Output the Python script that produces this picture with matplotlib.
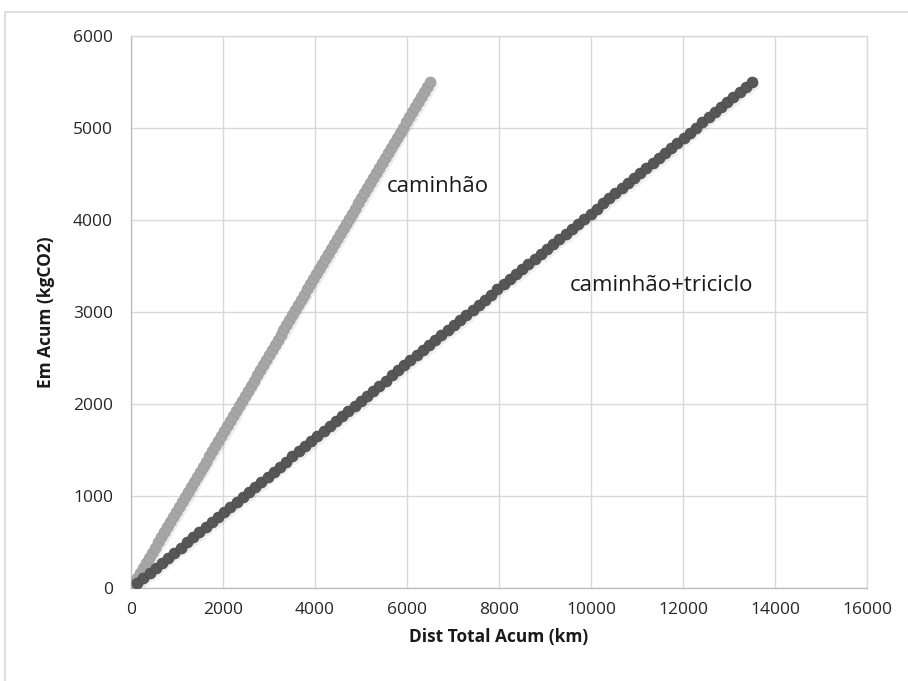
import matplotlib
matplotlib.use("Agg")
import matplotlib.pyplot as plt
from matplotlib.patches import Rectangle

# Cumulative emissions (kgCO2), shared by both series
em_acum = [55, 110, 165, 220, 275, 330, 385, 440, 495, 550,
           605, 660, 715, 770, 825, 880, 935, 990, 1045, 1100,
           1155, 1210, 1265, 1320, 1375, 1430, 1485, 1540, 1595, 1650,
           1705, 1760, 1815, 1870, 1925, 1980, 2035, 2090, 2145, 2200,
           2255, 2310, 2365, 2420, 2475, 2530, 2585, 2640, 2695, 2750,
           2805, 2860, 2915, 2970, 3025, 3080, 3135, 3190, 3245, 3300,
           3355, 3410, 3465, 3520, 3575, 3630, 3685, 3740, 3795, 3850,
           3905, 3960, 4015, 4070, 4125, 4180, 4235, 4290, 4345, 4400,
           4455, 4510, 4565, 4620, 4675, 4730, 4785, 4840, 4895, 4950,
           5005, 5060, 5115, 5170, 5225, 5280, 5335, 5390, 5445, 5500]

# Cumulative distance (km) - caminhão
dist_caminhao = [65, 130, 195, 260, 325, 390, 455, 520, 585, 650,
                 715, 780, 845, 910, 975, 1040, 1105, 1170, 1235, 1300,
                 1365, 1430, 1495, 1560, 1625, 1690, 1755, 1820, 1885, 1950,
                 2015, 2080, 2145, 2210, 2275, 2340, 2405, 2470, 2535, 2600,
                 2665, 2730, 2795, 2860, 2925, 2990, 3055, 3120, 3185, 3250,
                 3315, 3380, 3445, 3510, 3575, 3640, 3705, 3770, 3835, 3900,
                 3965, 4030, 4095, 4160, 4225, 4290, 4355, 4420, 4485, 4550,
                 4615, 4680, 4745, 4810, 4875, 4940, 5005, 5070, 5135, 5200,
                 5265, 5330, 5395, 5460, 5525, 5590, 5655, 5720, 5785, 5850,
                 5915, 5980, 6045, 6110, 6175, 6240, 6305, 6370, 6435, 6500]

# Cumulative distance (km) - caminhão+triciclo
dist_cam_tric = [135, 270, 405, 540, 675, 810, 945, 1080, 1215, 1350,
                 1485, 1620, 1755, 1890, 2025, 2160, 2295, 2430, 2565, 2700,
                 2835, 2970, 3105, 3240, 3375, 3510, 3645, 3780, 3915, 4050,
                 4185, 4320, 4455, 4590, 4725, 4860, 4995, 5130, 5265, 5400,
                 5535, 5670, 5805, 5940, 6075, 6210, 6345, 6480, 6615, 6750,
                 6885, 7020, 7155, 7290, 7425, 7560, 7695, 7830, 7965, 8100,
                 8235, 8370, 8505, 8640, 8775, 8910, 9045, 9180, 9315, 9450,
                 9585, 9720, 9855, 9990, 10125, 10260, 10395, 10530, 10665, 10800,
                 10935, 11070, 11205, 11340, 11475, 11610, 11745, 11880, 12015, 12150,
                 12285, 12420, 12555, 12690, 12825, 12960, 13095, 13230, 13365, 13500]

x_ticks = [0, 2000, 4000, 6000, 8000, 10000, 12000, 14000, 16000]
y_ticks = [0, 1000, 2000, 3000, 4000, 5000, 6000]

plt.rcParams['font.family'] = ['Open Sans', 'DejaVu Sans']

W, H = 908, 681
fig = plt.figure(figsize=(W / 100, H / 100), dpi=100)
fig.patch.set_facecolor('white')

# outer chart border
fig.patches.append(Rectangle((5 / W, -0.01), 1.1, 1 - 12 / H + 0.01,
                             transform=fig.transFigure, fill=False,
                             edgecolor='#d9d9d9', linewidth=1.2))

ax = fig.add_axes([131 / W, (H - 588) / H, (867 - 131) / W, (588 - 36) / H])
ax.set_xlim(0, 16000)
ax.set_ylim(0, 6000)
ax.set_xticks(x_ticks)
ax.set_yticks(y_ticks)
ax.grid(True, color='#d9d9d9', linewidth=1.0)
ax.set_axisbelow(True)
for s in ax.spines.values():
    s.set_color('#d9d9d9')
    s.set_linewidth(1.0)
ax.spines['left'].set_color('#bfbfbf')
ax.spines['bottom'].set_color('#bfbfbf')
ax.tick_params(length=0, labelsize=12.5, colors='#262626')
ax.tick_params(axis='y', pad=13)
ax.tick_params(axis='x', pad=10)

ms = 62
# shadows
ax.scatter([v + 40 for v in dist_caminhao], [v - 30 for v in em_acum], s=ms,
           color='#000000', alpha=0.06, linewidths=0, zorder=2)
ax.scatter([v + 40 for v in dist_cam_tric], [v - 30 for v in em_acum], s=ms,
           color='#000000', alpha=0.06, linewidths=0, zorder=2)
ax.scatter(dist_caminhao, em_acum, s=ms, color='#a6a6a6', edgecolors='#9a9a9a',
           linewidths=0.5, zorder=3)
ax.scatter(dist_cam_tric, em_acum, s=ms, color='#575757', edgecolors='#4a4a4a',
           linewidths=0.5, zorder=3)

ax.text(5570, 4360, 'caminhão', fontsize=16, va='center', ha='left', color='#1a1a1a')
ax.text(9540, 3290, 'caminhão+triciclo', fontsize=16, va='center', ha='left', color='#1a1a1a')

ax.set_xlabel('Dist Total Acum (km)', fontsize=12.5, fontweight='bold', labelpad=7, color='#1a1a1a')
ax.set_ylabel('Em Acum (kgCO2)', fontsize=12.5, fontweight='bold', labelpad=13, color='#1a1a1a')

fig.savefig('out.png', dpi=100)
